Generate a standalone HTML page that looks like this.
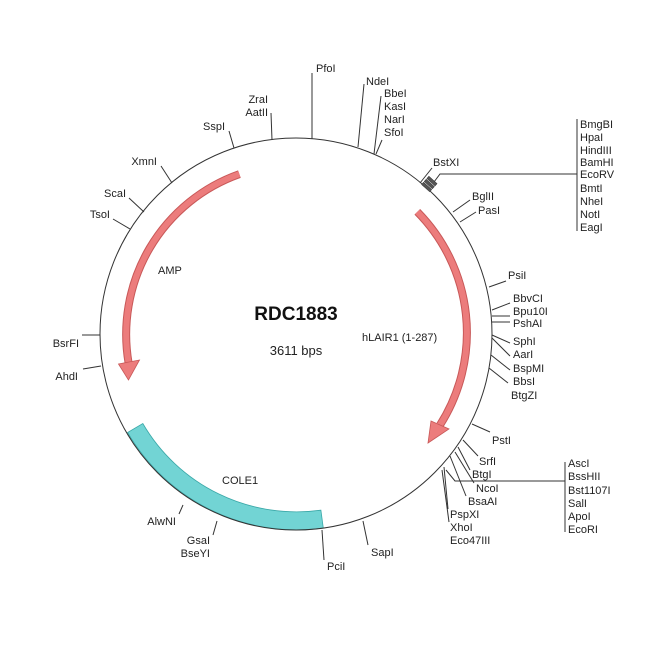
<!DOCTYPE html>
<html><head><meta charset="utf-8"><style>
html,body{margin:0;padding:0;background:#fff}
svg text{font-family:"Liberation Sans",Arial,sans-serif;font-size:11px;fill:#222}
</style></head><body>
<svg width="650" height="650" viewBox="0 0 650 650" xmlns="http://www.w3.org/2000/svg">
<rect width="650" height="650" fill="#fff"/>
<!-- COLE1 band -->
<path d="M 127.6 432.5 A 196 196 0 0 0 323.3 528.1 L 320.9 510.2 A 178 178 0 0 1 142.8 423.5 Z" fill="#72d4d4" stroke="#3aa8a8" stroke-width="0.8"/>
<circle cx="296" cy="334" r="196" fill="none" stroke="#333" stroke-width="1"/>
<!-- AMP arrow -->
<path d="M 239.4 174.1 A 170 170 0 0 0 128.6 363" fill="none" stroke="#c85858" stroke-width="8"/>
<path d="M 239.4 174.1 A 170 170 0 0 0 128.6 363" fill="none" stroke="#ec7c7c" stroke-width="6"/>
<polygon points="118.5,364 139.5,360 128.5,380" fill="#ec7c7c" stroke="#c85858" stroke-width="0.8"/>
<!-- hLAIR1 arrow -->
<path d="M 417.3 211.8 A 172 172 0 0 1 440 425" fill="none" stroke="#c85858" stroke-width="8"/>
<path d="M 417.3 211.8 A 172 172 0 0 1 440 425" fill="none" stroke="#ec7c7c" stroke-width="6"/>
<polygon points="431,421 449,429 428,443" fill="#ec7c7c" stroke="#c85858" stroke-width="0.8"/>
<g stroke="#333" stroke-width="1" fill="none">
<line x1="312" y1="139" x2="312" y2="73"/>
<line x1="358" y1="147" x2="364" y2="84"/>
<line x1="374" y1="154" x2="381" y2="96"/>
<line x1="376" y1="154" x2="382" y2="140"/>
<line x1="272" y1="140" x2="271" y2="113"/>
<line x1="234" y1="148" x2="229" y2="131"/>
<line x1="172" y1="183" x2="161" y2="166"/>
<line x1="144" y1="212" x2="129" y2="198"/>
<line x1="130" y1="229" x2="113" y2="219"/>
<line x1="420" y1="183" x2="432" y2="168"/>
<polyline points="434,182 440,174 577,174"/>
<line x1="577" y1="119" x2="577" y2="231"/>
<line x1="453" y1="212" x2="470" y2="200"/>
<line x1="460" y1="222" x2="476" y2="212"/>
<line x1="489" y1="287" x2="506" y2="281"/>
<line x1="492" y1="310" x2="510" y2="303"/>
<line x1="492" y1="316" x2="510" y2="316"/>
<line x1="492" y1="322" x2="510" y2="322"/>
<line x1="492" y1="335" x2="510" y2="343"/>
<line x1="492" y1="338" x2="510" y2="356"/>
<line x1="491" y1="355" x2="510" y2="370"/>
<line x1="489" y1="368" x2="508" y2="383"/>
<line x1="100" y1="335" x2="82" y2="335"/>
<line x1="101" y1="366" x2="83" y2="369"/>
<line x1="472" y1="424" x2="490" y2="432"/>
<line x1="463" y1="440" x2="478" y2="456"/>
<line x1="458" y1="447" x2="470" y2="470"/>
<line x1="455" y1="452" x2="474" y2="483"/>
<line x1="450" y1="456" x2="466" y2="496"/>
<line x1="444" y1="467" x2="448" y2="509"/>
<line x1="442" y1="470" x2="449" y2="522"/>
<polyline points="446,470 455,481 565,481"/>
<line x1="565" y1="462" x2="565" y2="532"/>
<line x1="322" y1="530" x2="324" y2="560"/>
<line x1="363" y1="521" x2="368" y2="545"/>
<line x1="183" y1="505" x2="179" y2="514"/>
<line x1="217" y1="521" x2="213" y2="535"/>
</g>
<g fill="#555" stroke="#333" stroke-width="0.5" transform="rotate(-48 430 184)">
<rect x="424" y="178" width="3" height="11"/>
<rect x="428" y="178" width="3" height="11"/>
<rect x="432" y="178" width="3" height="11"/>
</g>
<text x="316" y="72">PfoI</text>
<text x="366" y="85">NdeI</text>
<text x="384" y="97">BbeI</text>
<text x="384" y="110">KasI</text>
<text x="384" y="123">NarI</text>
<text x="384" y="136">SfoI</text>
<text x="268" y="103" text-anchor="end">ZraI</text>
<text x="268" y="116" text-anchor="end">AatII</text>
<text x="225" y="130" text-anchor="end">SspI</text>
<text x="157" y="165" text-anchor="end">XmnI</text>
<text x="126" y="197" text-anchor="end">ScaI</text>
<text x="110" y="218" text-anchor="end">TsoI</text>
<text x="433" y="166">BstXI</text>
<text x="580" y="128">BmgBI</text>
<text x="580" y="141">HpaI</text>
<text x="580" y="154">HindIII</text>
<text x="580" y="166">BamHI</text>
<text x="580" y="178">EcoRV</text>
<text x="580" y="192">BmtI</text>
<text x="580" y="205">NheI</text>
<text x="580" y="218">NotI</text>
<text x="580" y="231">EagI</text>
<text x="472" y="200">BglII</text>
<text x="478" y="214">PasI</text>
<text x="508" y="279">PsiI</text>
<text x="513" y="302">BbvCI</text>
<text x="513" y="315">Bpu10I</text>
<text x="513" y="327">PshAI</text>
<text x="513" y="345">SphI</text>
<text x="513" y="358">AarI</text>
<text x="513" y="372">BspMI</text>
<text x="513" y="385">BbsI</text>
<text x="511" y="399">BtgZI</text>
<text x="79" y="347" text-anchor="end">BsrFI</text>
<text x="78" y="380" text-anchor="end">AhdI</text>
<text x="492" y="444">PstI</text>
<text x="479" y="465">SrfI</text>
<text x="472" y="478">BtgI</text>
<text x="476" y="492">NcoI</text>
<text x="468" y="505">BsaAI</text>
<text x="450" y="518">PspXI</text>
<text x="450" y="531">XhoI</text>
<text x="450" y="544">Eco47III</text>
<text x="568" y="467">AscI</text>
<text x="568" y="480">BssHII</text>
<text x="568" y="494">Bst1107I</text>
<text x="568" y="507">SalI</text>
<text x="568" y="520">ApoI</text>
<text x="568" y="533">EcoRI</text>
<text x="327" y="570">PciI</text>
<text x="371" y="556">SapI</text>
<text x="176" y="525" text-anchor="end">AlwNI</text>
<text x="210" y="544" text-anchor="end">GsaI</text>
<text x="210" y="557" text-anchor="end">BseYI</text>
<text x="296" y="320" text-anchor="middle" style="font-size:19px;font-weight:bold;fill:#111">RDC1883</text>
<text x="296" y="355" text-anchor="middle" style="font-size:13px">3611 bps</text>
<text x="158" y="274">AMP</text>
<text x="362" y="341">hLAIR1 (1-287)</text>
<text x="222" y="484">COLE1</text>
</svg>
</body></html>
